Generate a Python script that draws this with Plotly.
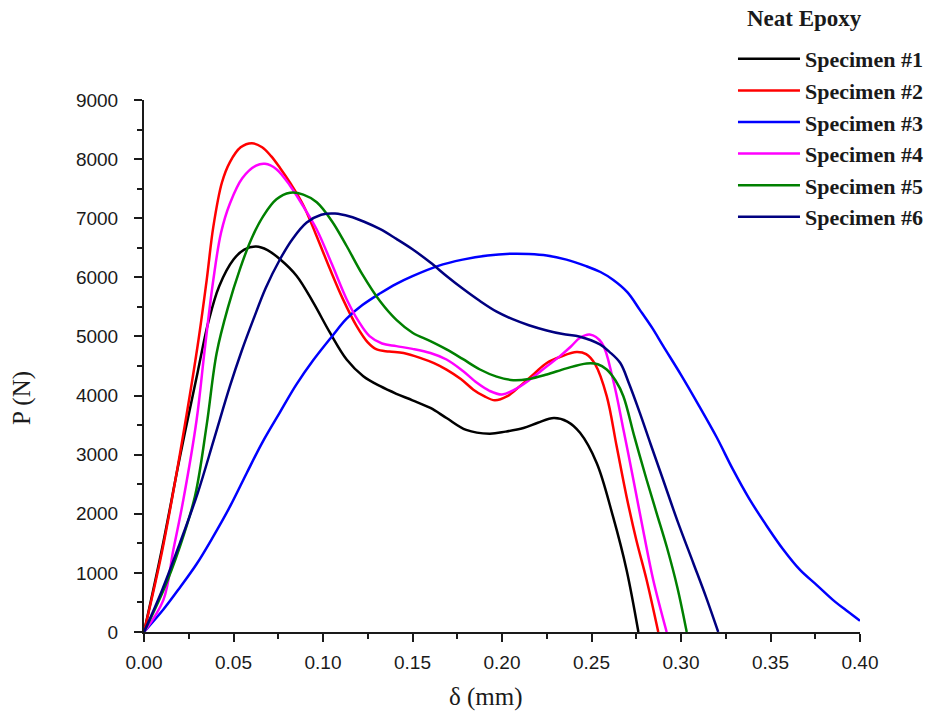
import plotly.graph_objects as go

# Load (P, N) versus displacement (delta, mm) for six neat-epoxy specimens
names = ["Specimen #1", "Specimen #2", "Specimen #3",
         "Specimen #4", "Specimen #5", "Specimen #6"]
colors = ["#000000", "#FF0000", "#0000FF", "#FF00FF", "#008000", "#000080"]

s1_x = [0, 0.010, 0.020, 0.030, 0.036, 0.042, 0.050, 0.056, 0.0626, 0.069, 0.076, 0.0853,
        0.0946, 0.1039, 0.1132, 0.1225, 0.132, 0.141, 0.150, 0.160, 0.169, 0.180,
        0.193, 0.202, 0.212, 0.220, 0.229, 0.2365, 0.2436, 0.2529, 0.262,
        0.2696, 0.2762]
s1_y = [0, 1400, 2950, 4400, 5250, 5850, 6300, 6470, 6520, 6460, 6306, 6023,
        5571, 5063, 4610, 4327, 4158, 4030, 3920, 3790, 3620, 3420,
        3355, 3390, 3450, 3540, 3620, 3560, 3370, 2860, 1955,
        1050, 0]

s2_x = [0, 0.010, 0.020, 0.030, 0.035, 0.0387, 0.0435, 0.048, 0.054, 0.0603, 0.066, 0.071,
        0.076, 0.0816, 0.089, 0.096, 0.1039, 0.111, 0.1188, 0.125, 0.130, 0.137, 0.145,
        0.155, 0.162, 0.169, 0.177, 0.184, 0.190, 0.196, 0.203, 0.210, 0.218, 0.225,
        0.233, 0.2417, 0.247, 0.252, 0.2585, 0.264, 0.2696, 0.275, 0.2808, 0.2873]
s2_y = [0, 1350, 3000, 4850, 5950, 6850, 7600, 7950, 8200, 8270, 8200, 8050,
        7850, 7600, 7220, 6730, 6140, 5640, 5175, 4900, 4780, 4745, 4720,
        4630, 4550, 4440, 4280, 4100, 3990, 3920, 3990, 4160, 4370, 4550,
        4660, 4735, 4700, 4530, 3990, 3150, 2290, 1560, 880, 0]

s3_x = [0, 0.0108, 0.020, 0.0294, 0.038, 0.048, 0.0574, 0.066, 0.076, 0.085, 0.0946, 0.105,
        0.1132, 0.122, 0.132, 0.141, 0.150, 0.164, 0.178, 0.192, 0.206, 0.215, 0.225,
        0.236, 0.247, 0.255, 0.262, 0.270, 0.277, 0.284, 0.290, 0.300, 0.310, 0.320,
        0.329, 0.338, 0.348, 0.357, 0.3665, 0.376, 0.385, 0.393, 0.400]
s3_y = [0, 380, 750, 1150, 1580, 2120, 2690, 3200, 3720, 4180, 4600, 5000,
        5300, 5530, 5730, 5890, 6020, 6190, 6300, 6370, 6400, 6395, 6370,
        6300, 6190, 6090, 5960, 5750, 5450, 5140, 4840, 4350, 3830, 3290,
        2750, 2260, 1790, 1400, 1050, 790, 540, 350, 190]

s4_x = [0, 0.0108, 0.0164, 0.022, 0.0294, 0.034, 0.0387, 0.043, 0.048, 0.055, 0.0626,
        0.0676, 0.074, 0.0816, 0.089, 0.0965, 0.105, 0.1132, 0.120, 0.126, 0.133, 0.141,
        0.150, 0.160, 0.169, 0.178, 0.186, 0.193, 0.200, 0.207, 0.2156, 0.224, 0.2324,
        0.2385, 0.2436, 0.249, 0.2557, 0.262, 0.268, 0.2734, 0.279, 0.2845, 0.292]
s4_y = [0, 540, 1390, 2240, 3590, 4800, 5950, 6750, 7250, 7680, 7890,
        7920, 7830, 7550, 7200, 6810, 6220, 5630, 5250, 5005, 4880, 4836,
        4790, 4720, 4610, 4420, 4215, 4080, 4017, 4100, 4271, 4470, 4667,
        4830, 4978, 5034, 4894, 4271, 3400, 2576, 1700, 881, 0]

s5_x = [0, 0.0108, 0.0201, 0.0285, 0.035, 0.0406, 0.047, 0.0536, 0.060, 0.0667, 0.074,
        0.0816, 0.089, 0.0965, 0.105, 0.1132, 0.122, 0.132, 0.141, 0.150, 0.160, 0.169,
        0.178, 0.1877, 0.197, 0.2063, 0.215, 0.225, 0.236, 0.2473, 0.2535, 0.2585,
        0.2635, 0.2678, 0.274, 0.2808, 0.2865, 0.292, 0.298, 0.3032]
s5_y = [0, 700, 1450, 2300, 3500, 4720, 5500, 6140, 6650, 7040, 7320,
        7430, 7400, 7270, 6950, 6530, 6050, 5590, 5280, 5063, 4920, 4780,
        4620, 4441, 4320, 4260, 4280, 4356, 4460, 4543, 4530, 4441,
        4250, 3989, 3300, 2576, 2000, 1446, 750, 0]

s6_x = [0, 0.010, 0.020, 0.030, 0.039, 0.048, 0.0545, 0.0611, 0.068, 0.076, 0.083, 0.0909,
        0.099, 0.1067, 0.115, 0.123, 0.132, 0.141, 0.150, 0.160, 0.169, 0.178, 0.1877,
        0.197, 0.2063, 0.215, 0.225, 0.234, 0.2436, 0.2547, 0.260, 0.266, 0.271,
        0.277, 0.283, 0.290, 0.298, 0.3069, 0.314, 0.3208]
s6_y = [0, 700, 1500, 2350, 3250, 4158, 4750, 5288, 5820, 6306, 6650, 6927,
        7060, 7080, 7030, 6940, 6814, 6650, 6475, 6250, 6023, 5810, 5599,
        5420, 5288, 5190, 5102, 5040, 4995, 4865, 4740, 4554, 4200,
        3707, 3180, 2576, 1880, 1164, 590, 0]

x_ticks = [0.00, 0.05, 0.10, 0.15, 0.20, 0.25, 0.30, 0.35, 0.40]
y_ticks = [0, 1000, 2000, 3000, 4000, 5000, 6000, 7000, 8000, 9000]

series = [(s1_x, s1_y), (s2_x, s2_y), (s3_x, s3_y),
          (s4_x, s4_y), (s5_x, s5_y), (s6_x, s6_y)]

fig = go.Figure()
for (xs, ys), name, color in zip(series, names, colors):
    fig.add_trace(go.Scatter(
        x=xs, y=ys, name=name, mode="lines",
        line=dict(color=color, width=2.5, shape="spline", smoothing=1.0),
        cliponaxis=False,
    ))

ink = "#1a1a1a"
tick_font = dict(family="Liberation Sans, Arial, sans-serif", size=19, color=ink)
serif = "Liberation Serif, Times New Roman, serif"

axis_common = dict(
    showline=True, linewidth=2, linecolor=ink,
    ticks="outside", ticklen=8, tickwidth=2, tickcolor=ink,
    showgrid=False, zeroline=False, tickfont=tick_font,
)

fig.update_xaxes(
    range=[0, 0.40], tickvals=x_ticks, tickformat=".2f",
    minor=dict(dtick=0.025, ticks="outside", ticklen=5, tickwidth=2, tickcolor=ink),
    ticklabelstandoff=4,
    **axis_common,
)
fig.update_yaxes(
    range=[0, 9000], tickvals=y_ticks,
    minor=dict(dtick=500, ticks="outside", ticklen=5, tickwidth=2, tickcolor=ink),
    ticklabelstandoff=12,
    **axis_common,
)

# axis titles
fig.add_annotation(text="δ (mm)", xref="paper", yref="paper", x=0.4777, y=-0.122,
                   xanchor="center", yanchor="middle", showarrow=False,
                   font=dict(family=serif, size=25, color=ink))
fig.add_annotation(text="P (N)", xref="paper", yref="paper", x=-0.1704, y=0.44,
                   xanchor="center", yanchor="middle", showarrow=False, textangle=-90,
                   font=dict(family=serif, size=25, color=ink))

# legend heading
fig.add_annotation(text="<b>Neat Epoxy</b>", xref="paper", yref="paper",
                   x=(745 - 144) / 716, y=(632 - 18) / 532,
                   xanchor="left", yanchor="middle", showarrow=False,
                   font=dict(family=serif, size=23, color=ink))

fig.update_layout(
    width=943, height=718,
    margin=dict(l=144, r=83, t=100, b=86, autoexpand=False),
    paper_bgcolor="white", plot_bgcolor="white",
    legend=dict(
        x=0.8226, y=(632 - 38) / 532, xanchor="left", yanchor="top",
        bgcolor="rgba(0,0,0,0)",
        font=dict(family=serif, size=22, color=ink, weight="bold"),
        itemwidth=62,
    ),
)

fig.write_html("out.html")
